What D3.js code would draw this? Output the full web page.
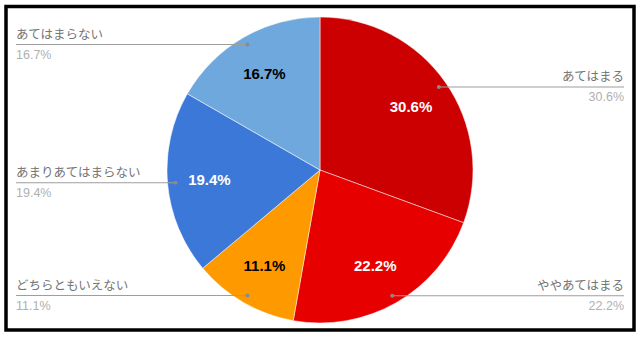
<!DOCTYPE html>
<html><head><meta charset="utf-8">
<script src="https://cdn.jsdelivr.net/npm/d3@7"></script>
<style>html,body{margin:0;padding:0;background:#fff;}svg{display:block;}</style>
</head><body>
<svg id="c" width="640" height="339"></svg>
<script>
const categories = ["あてはまる","ややあてはまる","どちらともいえない","あまりあてはまらない","あてはまらない"];
const values = [30.6, 22.2, 11.1, 19.4, 16.7];
const colors = ["#cc0000","#e60000","#ff9900","#3c78d8","#6fa8dc"];
const innerTextColors = ["#ffffff","#ffffff","#000000","#ffffff","#000000"];

const svg = d3.select("#c");
svg.append("rect").attr("x",0).attr("y",0).attr("width",640).attr("height",339).attr("fill","#fff");
svg.append("rect").attr("x",6).attr("y",6.5).attr("width",628).attr("height",323.5)
  .attr("fill","none").attr("stroke","#000").attr("stroke-width",3.5);

const cx = 320, cy = 170, r = 153;
const data = categories.map((c,i)=>({name:c, value:values[i], color:colors[i], tc:innerTextColors[i]}));
const pie = d3.pie().sort(null).value(d=>d.value);
const arcs = pie(data);
const arc = d3.arc().innerRadius(0).outerRadius(r);
const labelArc = d3.arc().innerRadius(111).outerRadius(111);
const dotArc = d3.arc().innerRadius(145).outerRadius(145);
const fmt = d => d3.format(".1f")(d) + "%";

const g = svg.append("g").attr("transform",`translate(${cx},${cy})`);
g.selectAll("path.slice").data(arcs).enter().append("path")
  .attr("class","slice").attr("d",arc).attr("fill",d=>d.data.color)
  .attr("stroke","#ffffff").attr("stroke-width",0.5);

g.selectAll("text.in").data(arcs).enter().append("text")
  .attr("class","in")
  .attr("x",d=>labelArc.centroid(d)[0]).attr("y",d=>labelArc.centroid(d)[1])
  .attr("dy","0.35em").attr("text-anchor","middle")
  .attr("font-family","Liberation Sans, Arial, sans-serif").attr("font-weight","bold")
  .attr("font-size","15px").attr("fill",d=>d.data.tc)
  .text(d=>fmt(d.data.value));

// leader lines & outside labels
const leftX = 16, rightX = 624;
arcs.forEach(d=>{
  const p = dotArc.centroid(d);
  const x = cx + p[0], y = cy + p[1];
  const mid = (d.startAngle + d.endAngle)/2;
  const right = mid < Math.PI;
  const endX = right ? rightX : leftX;
  svg.append("line").attr("x1",x).attr("y1",y).attr("x2",endX).attr("y2",y)
    .attr("stroke","#9e9e9e").attr("stroke-width",1.2);
  svg.append("circle").attr("cx",x).attr("cy",y).attr("r",2).attr("fill","#8a8a8a");
  svg.append("text").attr("x",endX).attr("y",y-5.5)
    .attr("text-anchor",right?"end":"start")
    .attr("font-family","Liberation Sans, Arial, 'Noto Sans CJK JP', sans-serif")
    .attr("font-size","12.5px").attr("fill","#757575").text(d.data.name);
  svg.append("text").attr("x",endX).attr("y",y+14.5)
    .attr("text-anchor",right?"end":"start")
    .attr("font-family","Liberation Sans, Arial, sans-serif")
    .attr("font-size","12.5px").attr("fill","#b0b0b0").text(fmt(d.data.value));
});
</script>
</body></html>
